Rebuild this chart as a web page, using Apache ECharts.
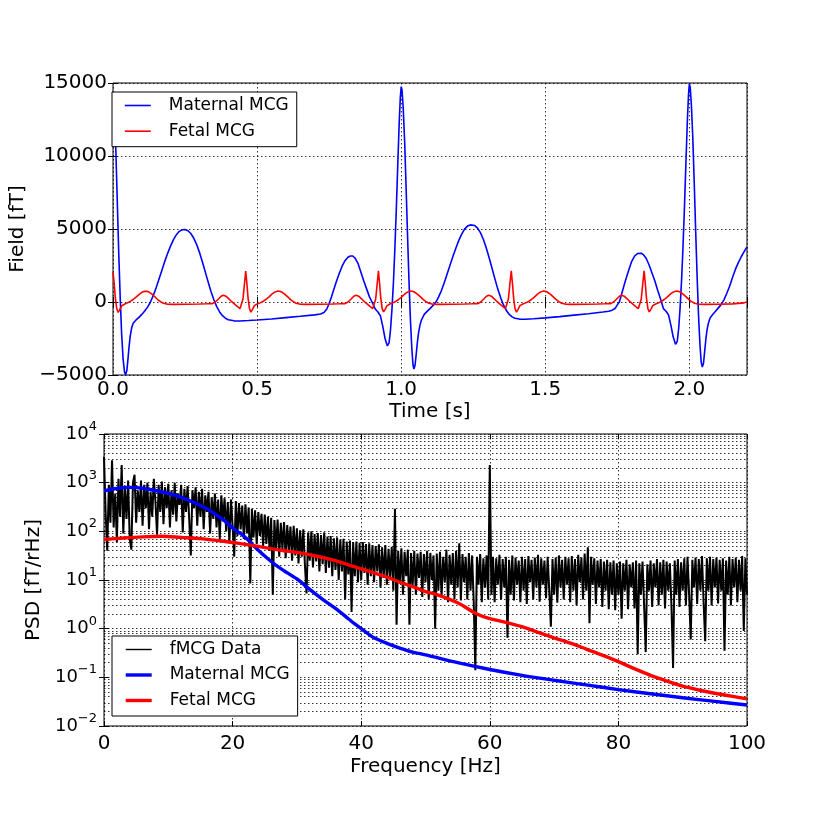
<!DOCTYPE html>
<html><head><meta charset="utf-8">
<script src="https://cdn.jsdelivr.net/npm/echarts@6/dist/echarts.min.js"></script>
<style>html,body{margin:0;padding:0;background:#fff}#c{width:830px;height:830px}</style>
</head><body><div id="c"></div>
<script>
const FONT = 'DejaVu Sans';

// ---- Top panel: time traces [time s, field fT] ----
const maternalTrace = [[0,14400],[0.005,13100],[0.01,10300],[0.015,6800],[0.02,3300],[0.025,300],[0.03,-2200],[0.035,-3900],[0.04,-4800],[0.044,-4970],[0.048,-4700],[0.052,-3900],[0.056,-3000],[0.06,-2300],[0.065,-1750],[0.07,-1450],[0.08,-1230],[0.09,-1050],[0.1,-850],[0.11,-620],[0.12,-350],[0.13,0],[0.14,450],[0.15,1000],[0.16,1600],[0.17,2200],[0.18,2800],[0.19,3350],[0.2,3850],[0.21,4270],[0.22,4610],[0.23,4840],[0.24,4950],[0.25,4960],[0.26,4880],[0.27,4690],[0.28,4380],[0.29,3950],[0.3,3400],[0.31,2760],[0.32,2070],[0.33,1380],[0.34,720],[0.35,150],[0.36,-320],[0.37,-680],[0.38,-940],[0.39,-1110],[0.4,-1210],[0.42,-1290],[0.44,-1300],[0.47,-1270],[0.5,-1230],[0.55,-1160],[0.6,-1070],[0.65,-980],[0.7,-880],[0.72,-820],[0.732,-720],[0.742,-480],[0.75,-100],[0.758,350],[0.767,900],[0.776,1450],[0.785,1950],[0.795,2450],[0.805,2830],[0.815,3060],[0.824,3150],[0.832,3150],[0.84,3000],[0.85,2650],[0.86,2050],[0.87,1450],[0.88,900],[0.89,350],[0.9,-50],[0.91,-480],[0.92,-700],[0.928,-950],[0.936,-1650],[0.944,-2500],[0.952,-3010],[0.958,-2800],[0.963,-1900],[0.968,-500],[0.973,1300],[0.978,3600],[0.983,6300],[0.988,9300],[0.993,12200],[0.997,14000],[1,14750],[1.003,14500],[1.007,13300],[1.012,11000],[1.017,7900],[1.022,4600],[1.027,1500],[1.032,-1200],[1.037,-3200],[1.041,-4300],[1.044,-4590],[1.048,-4350],[1.052,-3600],[1.056,-2800],[1.06,-2150],[1.065,-1600],[1.07,-1250],[1.08,-850],[1.09,-640],[1.1,-450],[1.11,-250],[1.12,-20],[1.13,350],[1.14,800],[1.15,1350],[1.16,1950],[1.17,2550],[1.18,3150],[1.19,3700],[1.2,4220],[1.21,4650],[1.22,4990],[1.23,5200],[1.24,5280],[1.246,5290],[1.255,5240],[1.265,5060],[1.275,4750],[1.285,4300],[1.295,3720],[1.305,3050],[1.315,2330],[1.325,1600],[1.335,900],[1.345,300],[1.355,-200],[1.365,-580],[1.375,-850],[1.385,-1020],[1.395,-1110],[1.41,-1170],[1.43,-1180],[1.46,-1150],[1.5,-1090],[1.55,-1000],[1.6,-900],[1.65,-800],[1.7,-690],[1.72,-630],[1.732,-560],[1.742,-450],[1.75,-200],[1.757,0],[1.765,550],[1.775,1250],[1.785,1900],[1.799,2740],[1.81,3150],[1.82,3320],[1.833,3340],[1.84,3250],[1.85,3000],[1.86,2550],[1.87,2000],[1.88,1450],[1.89,800],[1.9,200],[1.91,-450],[1.92,-650],[1.928,-900],[1.936,-1600],[1.944,-2400],[1.952,-2900],[1.958,-2700],[1.963,-1800],[1.968,-350],[1.973,1500],[1.978,3800],[1.983,6500],[1.988,9500],[1.993,12400],[1.997,14200],[2,14950],[2.003,14700],[2.007,13500],[2.012,11200],[2.017,8100],[2.022,4800],[2.027,1700],[2.032,-1000],[2.037,-3000],[2.041,-4100],[2.045,-4450],[2.049,-4200],[2.053,-3400],[2.057,-2600],[2.061,-1950],[2.066,-1450],[2.072,-1100],[2.08,-880],[2.09,-650],[2.1,-420],[2.11,-180],[2.12,150],[2.13,600],[2.14,1100],[2.15,1700],[2.16,2250],[2.17,2700],[2.18,3100],[2.19,3450],[2.2,3770]];

const fetalTrace = [[0,2050],[0.004,1300],[0.008,300],[0.013,-450],[0.018,-710],[0.023,-540],[0.03,-260],[0.04,-150],[0.05,-60],[0.06,40],[0.07,170],[0.08,340],[0.09,510],[0.1,660],[0.11,730],[0.118,730],[0.125,680],[0.135,540],[0.145,360],[0.155,170],[0.165,20],[0.175,-90],[0.19,-150],[0.21,-160],[0.26,-150],[0.3,-140],[0.325,-125],[0.345,-110],[0.355,0],[0.365,190],[0.375,390],[0.383,455],[0.392,400],[0.402,220],[0.412,20],[0.422,-150],[0.432,-320],[0.441,-450],[0.447,-350],[0.451,200],[0.456,1200],[0.4605,2120],
[0.4645,1300],[0.4685,300],[0.4735,-450],[0.4785,-690],[0.4835,-520],[0.4905,-250],[0.5005,-140],[0.5105,-60],[0.5205,40],[0.5305,170],[0.5405,340],[0.5505,520],[0.5605,670],[0.5705,745],[0.5785,740],[0.5855,685],[0.5955,545],[0.6055,365],[0.6155,175],[0.6255,25],[0.6355,-85],[0.6505,-150],[0.6705,-160],[0.7205,-150],[0.7605,-140],[0.7855,-125],[0.8055,-110],[0.8155,0],[0.8255,190],[0.8355,390],[0.8435,460],[0.8525,400],[0.8625,220],[0.8725,20],[0.8825,-150],[0.8925,-320],[0.9015,-450],[0.9075,-350],[0.9115,200],[0.9165,1200],[0.921,2140],
[0.925,1300],[0.929,300],[0.934,-450],[0.939,-680],[0.944,-520],[0.951,-250],[0.961,-140],[0.971,-60],[0.981,40],[0.991,170],[1.001,340],[1.011,520],[1.021,670],[1.031,745],[1.039,740],[1.046,685],[1.056,545],[1.066,365],[1.076,175],[1.086,25],[1.096,-85],[1.111,-150],[1.131,-160],[1.181,-150],[1.221,-140],[1.246,-125],[1.266,-110],[1.276,0],[1.286,190],[1.296,390],[1.304,460],[1.313,400],[1.323,220],[1.333,20],[1.343,-150],[1.353,-320],[1.362,-450],[1.368,-350],[1.372,200],[1.377,1200],[1.382,2130],
[1.386,1300],[1.39,300],[1.395,-450],[1.4,-690],[1.405,-520],[1.412,-250],[1.422,-140],[1.432,-60],[1.442,40],[1.452,170],[1.462,340],[1.472,520],[1.482,670],[1.492,745],[1.5,740],[1.507,685],[1.517,545],[1.527,365],[1.537,175],[1.547,25],[1.557,-85],[1.572,-150],[1.592,-160],[1.642,-150],[1.682,-140],[1.707,-125],[1.727,-110],[1.737,0],[1.747,190],[1.757,390],[1.765,460],[1.774,400],[1.784,220],[1.794,20],[1.804,-150],[1.814,-320],[1.823,-450],[1.829,-350],[1.833,200],[1.838,1200],[1.843,2130],
[1.847,1300],[1.851,300],[1.856,-450],[1.861,-680],[1.866,-520],[1.873,-250],[1.883,-140],[1.893,-60],[1.903,40],[1.913,170],[1.923,340],[1.933,520],[1.943,670],[1.953,745],[1.961,740],[1.968,685],[1.978,545],[1.988,365],[1.998,175],[2.008,25],[2.018,-85],[2.033,-150],[2.053,-160],[2.103,-150],[2.15,-130],[2.19,-60],[2.2,20]];

// ---- Bottom panel: spectra ----
const psdStep = 0.25; // Hz between fMCG samples, starting at 0 Hz
const fmcgPsd = [
3400,250,40,900,150,2900,120,600,60,1200,200,2300,90,800,180,1100,70,42,1000,1450,
150,700,250,1100,130,900,300,1000,110,650,200,1200,400,85,900,250,1050,140,800,300,
950,120,700,220,1000,160,600,350,900,95,750,250,850,180,32,700,300,800,130,650,
200,750,110,550,250,650,90,500,180,600,120,450,70,550,160,480,100,400,60,450,
130,30,420,80,380,110,340,70,360,90,310,8.5,290,75,270,55,250,80,230,50,
220,55,200,40,190,5,170,45,175,30,150,42,155,28,135,38,125,25,130,32,
115,22,105,30,110,20,5.3,95,25,100,18,88,24,92,15,84,21,95,14,78,
18,80,12,72,16,75,10,68,15,70,4,62,13,65,2.2,60,12,62,9,58,
10,60,14,55,8,57,12,52,9,50,15,54,7,47,11,52,8,44,11,48,
6,290,1.2,40,9,45,5,38,12,42,1.2,36,8,40,5,35,11,38,4.5,34,
9,40,4,36,10,32,1.0,35,6,38,4.5,30,9,42,3.5,33,8,36,4,40,
7,57,3.8,34,9,30,4,36,6,32,3.5,0.14,30,8,34,3.5,28,7,32,4,
2300,5,30,3.5,28,8,33,4,27,7,30,0.65,26,5,32,3.8,29,8,25,3.5,
30,6,27,3.2,31,9,26,4,29,7,33,3.6,28,8,25,4.2,30,6,1.1,27,
5,29,3.4,32,7,26,4,30,8,28,3.5,31,6,27,3,33,9,29,4,35,
6,47,1.3,30,8,28,3.2,25,7,27,2.8,24,6,26,2.5,23,5,25,2.4,22,
5,24,1.6,22,6,26,2.5,21,7,23,2.6,25,0.3,22,5,24,3,0.33,21,6,
25,2.8,22,7,27,3,23,5,26,2.6,24,6,22,3,0.155,25,5,27,2.8,23,
6,28,3,30,5,0.6,26,7,29,3.2,27,6,31,3.5,0.55,28,6,30,3,27,
7,29,3.3,26,6,28,0.35,25,5,30,3,27,7,29,3.5,26,6,31,0.9,28,
5];

const maternalSpectrum = [[0,680],[2,760],[4,800],[6,770],[8,690],[10,600],[12,500],[14,390],[16,290],[17,240],[18,195],[19,155],[20,118],[21,95],[22,75],[23,55],[24,41],[25,31],[26,24],[27,19],[28,15.5],[30,10.5],[32,6.4],[34,4.0],[36,2.6],[38,1.6],[39,1.25],[40,1.0],[41,0.8],[42,0.65],[44,0.5],[46,0.4],[48,0.33],[50,0.29],[55,0.2],[60,0.145],[65,0.11],[70,0.087],[75,0.07],[80,0.056],[85,0.046],[90,0.038],[95,0.032],[100,0.027]];

const fetalSpectrum = [[0,68],[3,73],[6,77],[9,79],[12,75],[15,71],[18,64],[20,59],[22,54],[24,49],[26,44],[28,40],[30,37],[32,33],[34,29],[36,25],[38,20.5],[40,17],[42,14],[44,11.5],[46,9],[48,7.3],[50,5.8],[52,4.9],[55,3.4],[58,2.0],[60,1.6],[62,1.4],[65,1.1],[68,0.8],[70,0.65],[73,0.48],[75,0.38],[78,0.27],[80,0.21],[82,0.16],[85,0.11],[88,0.08],[90,0.066],[93,0.053],[95,0.047],[98,0.04],[100,0.036]];

// minor log grid positions
const logDecades = [0.01, 0.1, 1, 10, 100, 1000];
const minorMultipliers = [2, 3, 4, 5, 6, 7, 8, 9];

const fmcgData = fmcgPsd.map((v, i) => [i * psdStep, v]);
const minorLines = [];
logDecades.forEach(d => minorMultipliers.forEach(m => minorLines.push({yAxis: +(d * m).toPrecision(3)})));

const txt = {fontFamily: FONT, fontSize: 20, color: '#000'};
const grid = {color: '#000', width: 0.8, type: [1.5, 2.5]};
const tickIn = {show: true, inside: true, length: 5, lineStyle: {color: '#000', width: 1}};
const noLine = {show: false};

function minusFmt(v) { return v < 0 ? '\u2212' + (-v) : String(v); }
function logFmt(v) {
  const e = Math.round(Math.log10(v));
  return '{b|10}{s|' + (e < 0 ? '\u2212' + (-e) : String(e)) + '}';
}
const logRich = {
  b: {fontFamily: FONT, fontSize: 18, color: '#000', padding: [5, 0, 5, 0]},
  s: {fontFamily: FONT, fontSize: 13, color: '#000', verticalAlign: 'top'}
};
const legendCommon = {
  orient: 'vertical', left: 112, itemWidth: 26, itemHeight: 14, z: 20,
  padding: [5, 8, 7, 12], backgroundColor: '#fff', borderColor: '#000', borderWidth: 1, borderRadius: 0, selectedMode: false,
  itemStyle: {opacity: 0},
  textStyle: {fontFamily: FONT, fontSize: 17, color: '#000', padding: [0, 0, 0, 13]}
};

const chart = echarts.init(document.getElementById('c'), null, {width: 830, height: 830});
chart.setOption({
  animation: false,
  backgroundColor: '#fff',
  grid: [
    {left: 104, top: 83, width: 643, height: 292, show: true, borderColor: '#000', borderWidth: 1},
    {left: 104, top: 434, width: 643, height: 292, show: true, borderColor: '#000', borderWidth: 1}
  ],
  xAxis: [
    {gridIndex: 0, type: 'value', min: 0, max: 2.2, interval: 0.5, name: 'Time [s]', nameLocation: 'middle', nameGap: 27, nameTextStyle: txt,
     axisLine: noLine, axisTick: tickIn, splitLine: {show: true, lineStyle: grid},
     axisLabel: Object.assign({margin: 5, formatter: v => (Math.abs(v * 2 - Math.round(v * 2)) < 1e-6 ? v.toFixed(1) : '')}, txt)},
    {gridIndex: 0, type: 'value', position: 'top', min: 0, max: 2.2, interval: 0.5, axisLine: noLine, axisTick: tickIn, axisLabel: {show: false}, splitLine: {show: false}},
    {gridIndex: 1, type: 'value', min: 0, max: 100, interval: 20, name: 'Frequency [Hz]', nameLocation: 'middle', nameGap: 31, nameTextStyle: txt,
     axisLine: noLine, axisTick: tickIn, splitLine: {show: true, lineStyle: grid},
     axisLabel: Object.assign({margin: 8}, txt)},
    {gridIndex: 1, type: 'value', position: 'top', min: 0, max: 100, interval: 20, axisLine: noLine, axisTick: tickIn, axisLabel: {show: false}, splitLine: {show: false}}
  ],
  yAxis: [
    {gridIndex: 0, type: 'value', min: -5000, max: 15000, interval: 5000, name: 'Field [fT]', nameLocation: 'middle', nameGap: 85, nameTextStyle: txt,
     axisLine: noLine, axisTick: tickIn, splitLine: {show: true, lineStyle: grid},
     axisLabel: Object.assign({margin: 6, formatter: minusFmt}, txt)},
    {gridIndex: 0, type: 'value', position: 'right', min: -5000, max: 15000, interval: 5000, axisLine: noLine, axisTick: tickIn, axisLabel: {show: false}, splitLine: {show: false}},
    {gridIndex: 1, type: 'log', logBase: 10, min: 0.01, max: 10000, name: 'PSD [fT/rHz]', nameLocation: 'middle', nameGap: 54, nameTextStyle: txt,
     axisLine: noLine, axisTick: tickIn, splitLine: {show: true, lineStyle: grid},
     axisLabel: {margin: 7, formatter: logFmt, rich: logRich}},
    {gridIndex: 1, type: 'log', logBase: 10, position: 'right', min: 0.01, max: 10000, axisLine: noLine, axisTick: tickIn, axisLabel: {show: false}, splitLine: {show: false}}
  ],
  legend: [
    Object.assign({data: [{name: 'Maternal MCG', lineStyle: {width: 1.6}}, {name: 'Fetal MCG', lineStyle: {width: 1.6}}], top: 92, itemGap: 8.7}, legendCommon),
    Object.assign({data: [{name: 'fMCG Data', lineStyle: {width: 1.4}}, {name: 'Maternal MCG', lineStyle: {width: 3.4}}, {name: 'Fetal MCG', lineStyle: {width: 3.4}}], top: 636, itemGap: 8.5}, legendCommon)
  ],
  series: [
    {type: 'line', name: 'Maternal MCG', xAxisIndex: 0, yAxisIndex: 0, data: maternalTrace, symbol: 'none', showSymbol: false,
     lineStyle: {color: '#0000ff', width: 1.6}, itemStyle: {color: '#0000ff'}, z: 3},
    {type: 'line', name: 'Fetal MCG', xAxisIndex: 0, yAxisIndex: 0, data: fetalTrace, symbol: 'none', showSymbol: false,
     lineStyle: {color: '#ff0000', width: 1.6}, itemStyle: {color: '#ff0000'}, z: 4},
    {type: 'line', name: 'fMCG Data', xAxisIndex: 2, yAxisIndex: 2, data: fmcgData, symbol: 'none', showSymbol: false,
     lineStyle: {color: '#000', width: 2.0}, itemStyle: {color: '#000'}, z: 3,
     markLine: {silent: true, z: 1, symbol: ['none', 'none'], label: {show: false}, lineStyle: grid, data: minorLines, animation: false}},
    {type: 'line', name: 'Maternal MCG', xAxisIndex: 2, yAxisIndex: 2, data: maternalSpectrum, symbol: 'none', showSymbol: false, smooth: 0.3,
     lineStyle: {color: '#0000ff', width: 3.4}, itemStyle: {color: '#0000ff'}, z: 4},
    {type: 'line', name: 'Fetal MCG', xAxisIndex: 2, yAxisIndex: 2, data: fetalSpectrum, symbol: 'none', showSymbol: false, smooth: 0.3,
     lineStyle: {color: '#ff0000', width: 3.4}, itemStyle: {color: '#ff0000'}, z: 5}
  ]
});
</script>
</body></html>
